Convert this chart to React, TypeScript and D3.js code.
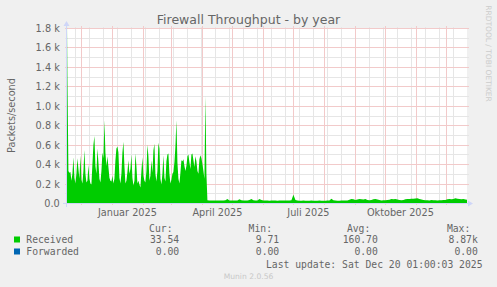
import React from 'react';
import * as d3 from 'd3';

const WIDTH = 497;
const HEIGHT = 287;

const title = 'Firewall Throughput - by year';
const yAxisTitle = 'Packets/second';
const yTickValues = [0, 200, 400, 600, 800, 1000, 1200, 1400, 1600, 1800];
const yTickLabels = ['0.0', '0.2 k', '0.4 k', '0.6 k', '0.8 k', '1.0 k', '1.2 k', '1.4 k', '1.6 k', '1.8 k'];
const yMinorValues = [100, 300, 500, 700, 900, 1100, 1300, 1500, 1700];
const xLabelTexts = ['Januar 2025', 'April 2025', 'Juli 2025', 'Oktober 2025'];
const xLabelMonths = ['2025-01-01', '2025-04-01', '2025-07-01', '2025-10-01'];

// daily averages from 2024-11-16
const receivedDaily = [
  2600, 1300, 330, 310, 320, 230, 300, 470, 260, 200, 300, 460, 350, 250, 490, 240, 200, 330, 545, 300,
  210, 230, 390, 250, 200, 190, 400, 600, 690, 380, 300, 560, 420, 250, 210, 330, 520, 460, 850, 520,
  380, 480, 370, 260, 230, 220, 280, 200, 250, 440, 560, 580, 520, 260, 200, 300, 520, 630, 380, 200,
  230, 320, 440, 300, 350, 500, 260, 180, 230, 510, 380, 200, 230, 190, 160, 330, 470, 280, 230, 210,
  330, 600, 480, 230, 280, 440, 310, 540, 610, 300, 220, 330, 620, 560, 250, 190, 300, 490, 260, 220,
  430, 500, 510, 300, 200, 240, 300, 320, 420, 580, 850, 420, 250, 200, 310, 440, 430, 450, 380, 330,
  380, 480, 500, 420, 350, 500, 510, 440, 370, 480, 430, 330, 300, 450, 490, 460, 400, 330, 250, 1100,
  300,
];

// two-day averages from 2025-04-06
const receivedEvery2Days = [
  28, 26, 25, 27, 26, 25, 26, 27, 26, 28,
  40, 27, 26, 26, 25, 27, 38, 28, 26, 26,
  27, 31, 40, 29, 26, 26, 42, 31, 26, 25,
  25, 24, 25, 26, 25, 24, 25, 26, 25, 25,
  26, 27, 29, 85, 30, 25, 24, 24, 25, 24,
  23, 24, 25, 24, 23, 24, 25, 24, 24, 24,
  25, 27, 45, 29, 25, 24, 24, 25, 26, 25,
  27, 33, 40, 38, 30, 36, 40, 38, 35, 40,
  32, 29, 30, 38, 40, 37, 31, 27, 28, 29,
  30, 33, 40, 38, 40, 36, 31, 29, 32, 38,
  42, 40, 44, 45, 46, 50, 42, 36, 31, 29,
  28, 27, 30, 29, 28, 27, 29, 28, 30, 32,
  38, 40, 38, 42, 48, 44, 40, 38, 40, 36,
  34,
];

const legendNames = ['Received', 'Forwarded'];
const legendColors = ['#00CC00', '#0066B3'];
const legendCur = ['33.54', '0.00'];
const legendMin = ['9.71', '0.00'];
const legendAvg = ['160.70', '0.00'];
const legendMax = ['8.87k', '0.00'];
const legendHeaders = ['Cur:', 'Min:', 'Avg:', 'Max:'];
const lastUpdate = 'Last update: Sat Dec 20 01:00:03 2025';
const watermark = 'Munin 2.0.56';
const sideText = 'RRDTOOL / TOBI OETIKER';

const X0 = 67;
const X1 = 467;
const YT = 28;
const YB = 203;
const DAY = 86400000;

const startTime = new Date(Date.UTC(2024, 10, 16, 14, 0));
const endTime = new Date(Date.UTC(2025, 11, 21, 14, 0));

const SANS = '"DejaVu Sans", sans-serif';
const MONO = '"DejaVu Sans Mono", monospace';
const FONT_COLOR = '#666666';
const AXIS_COLOR = '#CFD6F8';
const GRID_GRAY = '#E6E6E6';
const GRID_RED = '#F2CACA';

export default function App() {
  const x = d3.scaleUtc().domain([startTime, endTime]).range([X0, X1]);
  const y = d3.scaleLinear().domain([0, 1800]).range([YB, YT]);
  const cx = (v: number) => Math.floor(v) + 0.5;
  const cy = (v: number) => Math.round(v) + 0.5;

  type P = { t: Date; v: number };
  const points: P[] = [
    ...receivedDaily.map((v, i) => ({ t: new Date(Date.UTC(2024, 10, 16) + i * DAY), v })),
    ...receivedEvery2Days.map((v, k) => ({ t: new Date(Date.UTC(2025, 3, 6) + 2 * k * DAY), v })),
  ];

  const area = d3
    .area<P>()
    .x((d) => x(d.t))
    .y0(YB)
    .y1((d) => y(d.v));

  const monthXs = d3.utcMonth.range(startTime, endTime).map((d) => cx(x(d)));
  const minorXs: number[] = [];
  for (let t = Date.UTC(2024, 10, 11); t < endTime.getTime(); t += 14 * DAY) {
    if (t <= startTime.getTime()) continue;
    const xx = cx(x(new Date(t)));
    if (!monthXs.includes(xx)) minorXs.push(xx);
  }

  const legendRowY = [243, 255];
  const headerX = [172.5, 272, 370.3, 470.3];
  const valueX = [179.2, 279.2, 377.8, 477.8];
  const valueCols = [legendCur, legendMin, legendAvg, legendMax];

  return (
    <svg
      width={WIDTH}
      height={HEIGHT}
      style={{ position: 'absolute', left: 0, top: 0, display: 'block' }}
      xmlns="http://www.w3.org/2000/svg"
    >
      <defs>
        <clipPath id="plotclip">
          <rect x={X0} y={YT - 8} width={X1 - X0} height={YB - YT + 8} />
        </clipPath>
      </defs>
      <rect x={0} y={0} width={WIDTH} height={HEIGHT} fill="#F0F0F0" />
      <rect x={X0} y={YT} width={X1 - X0} height={YB - YT} fill="#FFFFFF" />

      {/* minor grid */}
      {yMinorValues.map((v) => (
        <line key={'hm' + v} x1={X0 - 2} x2={X1 + 2} y1={cy(y(v))} y2={cy(y(v))} stroke={GRID_GRAY} strokeWidth={1} />
      ))}
      {minorXs.map((xx) => (
        <line key={'vm' + xx} x1={xx} x2={xx} y1={YB + 1} y2={YT - 1} stroke={GRID_GRAY} strokeWidth={1} />
      ))}
      {/* major grid */}
      {yTickValues.slice(1).map((v) => (
        <line key={'hM' + v} x1={X0 - 2} x2={X1 + 2} y1={cy(y(v))} y2={cy(y(v))} stroke={GRID_RED} strokeWidth={1} />
      ))}
      {monthXs.map((xx) => (
        <line key={'vM' + xx} x1={xx} x2={xx} y1={YB + 2} y2={YT - 2} stroke={GRID_RED} strokeWidth={1} />
      ))}

      {/* data */}
      <path d={area(points) || ''} fill="#00CC00" clipPath="url(#plotclip)" />
      <line x1={X0} x2={X1} y1={YB + 0.5} y2={YB + 0.5} stroke="#0066B3" strokeWidth={1} />

      {/* axes */}
      <line x1={X0 - 4} x2={X1 + 3} y1={YB + 0.5} y2={YB + 0.5} stroke={AXIS_COLOR} strokeWidth={1} />
      <polygon points={`${X1 + 1},${YB - 2.5} ${X1 + 6},${YB + 0.5} ${X1 + 1},${YB + 3.5}`} fill={AXIS_COLOR} />
      <line x1={X0 - 0.5} x2={X0 - 0.5} y1={YB + 4} y2={YT - 3} stroke={AXIS_COLOR} strokeWidth={1} />
      <polygon points={`${X0 - 3.5},${YT - 2} ${X0 - 0.5},${YT - 7} ${X0 + 2.5},${YT - 2}`} fill={AXIS_COLOR} />

      {/* y tick labels */}
      {yTickValues.map((v, i) => (
        <text
          key={'yl' + v}
          x={59.8}
          y={Math.round(y(v)) + 4.1}
          textAnchor="end"
          fontFamily={SANS}
          fontSize={9.72}
          fill={FONT_COLOR}
        >
          {yTickLabels[i]}
        </text>
      ))}

      {/* x labels */}
      {xLabelMonths.map((m, i) => {
        const d = new Date(Date.parse(m + 'T00:00:00Z') + 15 * DAY);
        return (
          <text key={'xl' + i} x={x(d)} y={216} textAnchor="middle" fontFamily={SANS} fontSize={9.72} fill={FONT_COLOR}>
            {xLabelTexts[i]}
          </text>
        );
      })}

      {/* title */}
      <text x={248.5} y={24} textAnchor="middle" fontFamily={SANS} fontSize={12.5} fill={FONT_COLOR}>
        {title}
      </text>

      {/* y axis title */}
      <text
        transform={`translate(15,${(YT + YB) / 2}) rotate(-90)`}
        textAnchor="middle"
        fontFamily={SANS}
        fontSize={9.72}
        fill={FONT_COLOR}
      >
        {yAxisTitle}
      </text>

      {/* side watermark */}
      <text
        transform={`translate(486,53.5) rotate(90)`}
        textAnchor="middle"
        fontFamily={SANS}
        fontSize={7.5}
        fill="#CCCCCC"
      >
        {sideText}
      </text>

      {/* legend */}
      {legendHeaders.map((h, i) => (
        <text key={'lh' + i} x={headerX[i]} y={231.5} textAnchor="end" fontFamily={MONO} fontSize={9.72} fill={FONT_COLOR}>
          {h}
        </text>
      ))}
      {legendNames.map((n, i) => (
        <g key={'lg' + n}>
          <rect x={14} y={legendRowY[i] - 6.5} width={6} height={6} fill={legendColors[i]} />
          <text x={26.3} y={legendRowY[i]} fontFamily={MONO} fontSize={9.72} fill={FONT_COLOR}>
            {n}
          </text>
          {valueCols.map((vals, j) => (
            <text key={j} x={valueX[j]} y={legendRowY[i]} textAnchor="end" fontFamily={MONO} fontSize={9.72} fill={FONT_COLOR}>
              {vals[i]}
            </text>
          ))}
        </g>
      ))}
      <text x={482.5} y={267.5} textAnchor="end" fontFamily={MONO} fontSize={9.72} fill={FONT_COLOR}>
        {lastUpdate}
      </text>
      <text x={248.5} y={279} textAnchor="middle" fontFamily={SANS} fontSize={7.6} fill="#C8C8C8">
        {watermark}
      </text>
    </svg>
  );
}
